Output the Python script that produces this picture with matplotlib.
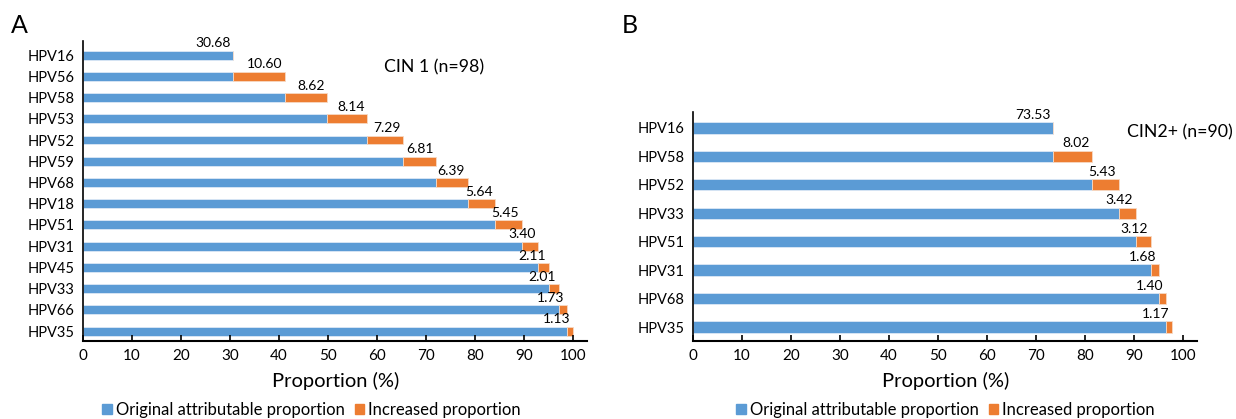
import numpy as np
import matplotlib
matplotlib.use('Agg')
import matplotlib.pyplot as plt
from matplotlib.patches import Patch

plt.rcParams['font.family'] = ['Lato', 'DejaVu Sans']

# data
types_a = ['HPV16', 'HPV56', 'HPV58', 'HPV53', 'HPV52', 'HPV59', 'HPV68',
           'HPV18', 'HPV51', 'HPV31', 'HPV45', 'HPV33', 'HPV66', 'HPV35']
inc_a = [30.68, 10.60, 8.62, 8.14, 7.29, 6.81, 6.39, 5.64, 5.45, 3.40, 2.11, 2.01, 1.73, 1.13]

types_b = ['HPV16', 'HPV58', 'HPV52', 'HPV33', 'HPV51', 'HPV31', 'HPV68', 'HPV35']
inc_b = [73.53, 8.02, 5.43, 3.42, 3.12, 1.68, 1.40, 1.17]

title_a = 'CIN 1 (n=98)'
title_b = 'CIN2+ (n=90)'
xticks = list(range(0, 101, 10))

blue = '#5B9BD5'
orange = '#ED7D31'

fig = plt.figure(figsize=(12.36, 4.19), dpi=100)
ax_a = fig.add_axes([0.0672, 0.186, 0.408, 0.716])
ax_b = fig.add_axes([0.5607, 0.186, 0.408, 0.547])


def waterfall(ax, labels, inc, ylim, bh):
    inc = np.array(inc)
    cum = np.cumsum(inc)
    base = cum - inc
    base[0] = inc[0]
    extra = inc.copy()
    extra[0] = 0
    y = np.arange(len(labels))
    ax.barh(y, base, height=bh, color=blue, edgecolor='#dce8f5', linewidth=0.6)
    ax.barh(y, extra, left=base, height=bh, color=orange, edgecolor='#f7d9c4', linewidth=0.6)
    for yi, end, v in zip(y, cum, inc):
        ax.annotate(f'{v:.2f}', (end, yi - bh / 2), xytext=(-2, 1),
                    textcoords='offset points', ha='right', va='bottom', fontsize=10)
    ax.set_yticks(y)
    ax.set_yticklabels(labels, fontsize=10.5)
    ax.set_ylim(*ylim)
    ax.set_xlim(0, 103)
    ax.set_xticks(xticks)
    ax.tick_params(axis='x', direction='in', length=4, width=1.2, labelsize=11, pad=6)
    ax.tick_params(axis='y', length=0, pad=6)
    for s in ['top', 'right']:
        ax.spines[s].set_visible(False)
    ax.spines['left'].set_linewidth(1.2)
    ax.spines['bottom'].set_linewidth(1.5)
    ax.set_xlabel('Proportion (%)', fontsize=14.5, labelpad=6)


waterfall(ax_a, types_a, inc_a, (13.47, -0.66), 0.42)
waterfall(ax_b, types_b, inc_b, (7.49, -0.56), 0.4)

fig.text(0.351, 0.84, title_a, fontsize=12.8, ha='center', va='center')
fig.text(0.997, 0.683, title_b, fontsize=12.8, ha='right', va='center')

fig.text(0.009, 0.94, 'A', fontsize=18, va='center')
fig.text(0.503, 0.94, 'B', fontsize=18, va='center')

handles = [Patch(color=blue, label='Original attributable proportion'),
           Patch(color=orange, label='Increased proportion')]
for cx in [0.252, 0.765]:
    fig.legend(handles=handles, loc='center', bbox_to_anchor=(cx, 0.022), ncol=2,
               frameon=False, fontsize=12, handlelength=0.55, handleheight=0.55,
               handletextpad=0.25, columnspacing=0.6)

fig.savefig('out.png', dpi=100)
